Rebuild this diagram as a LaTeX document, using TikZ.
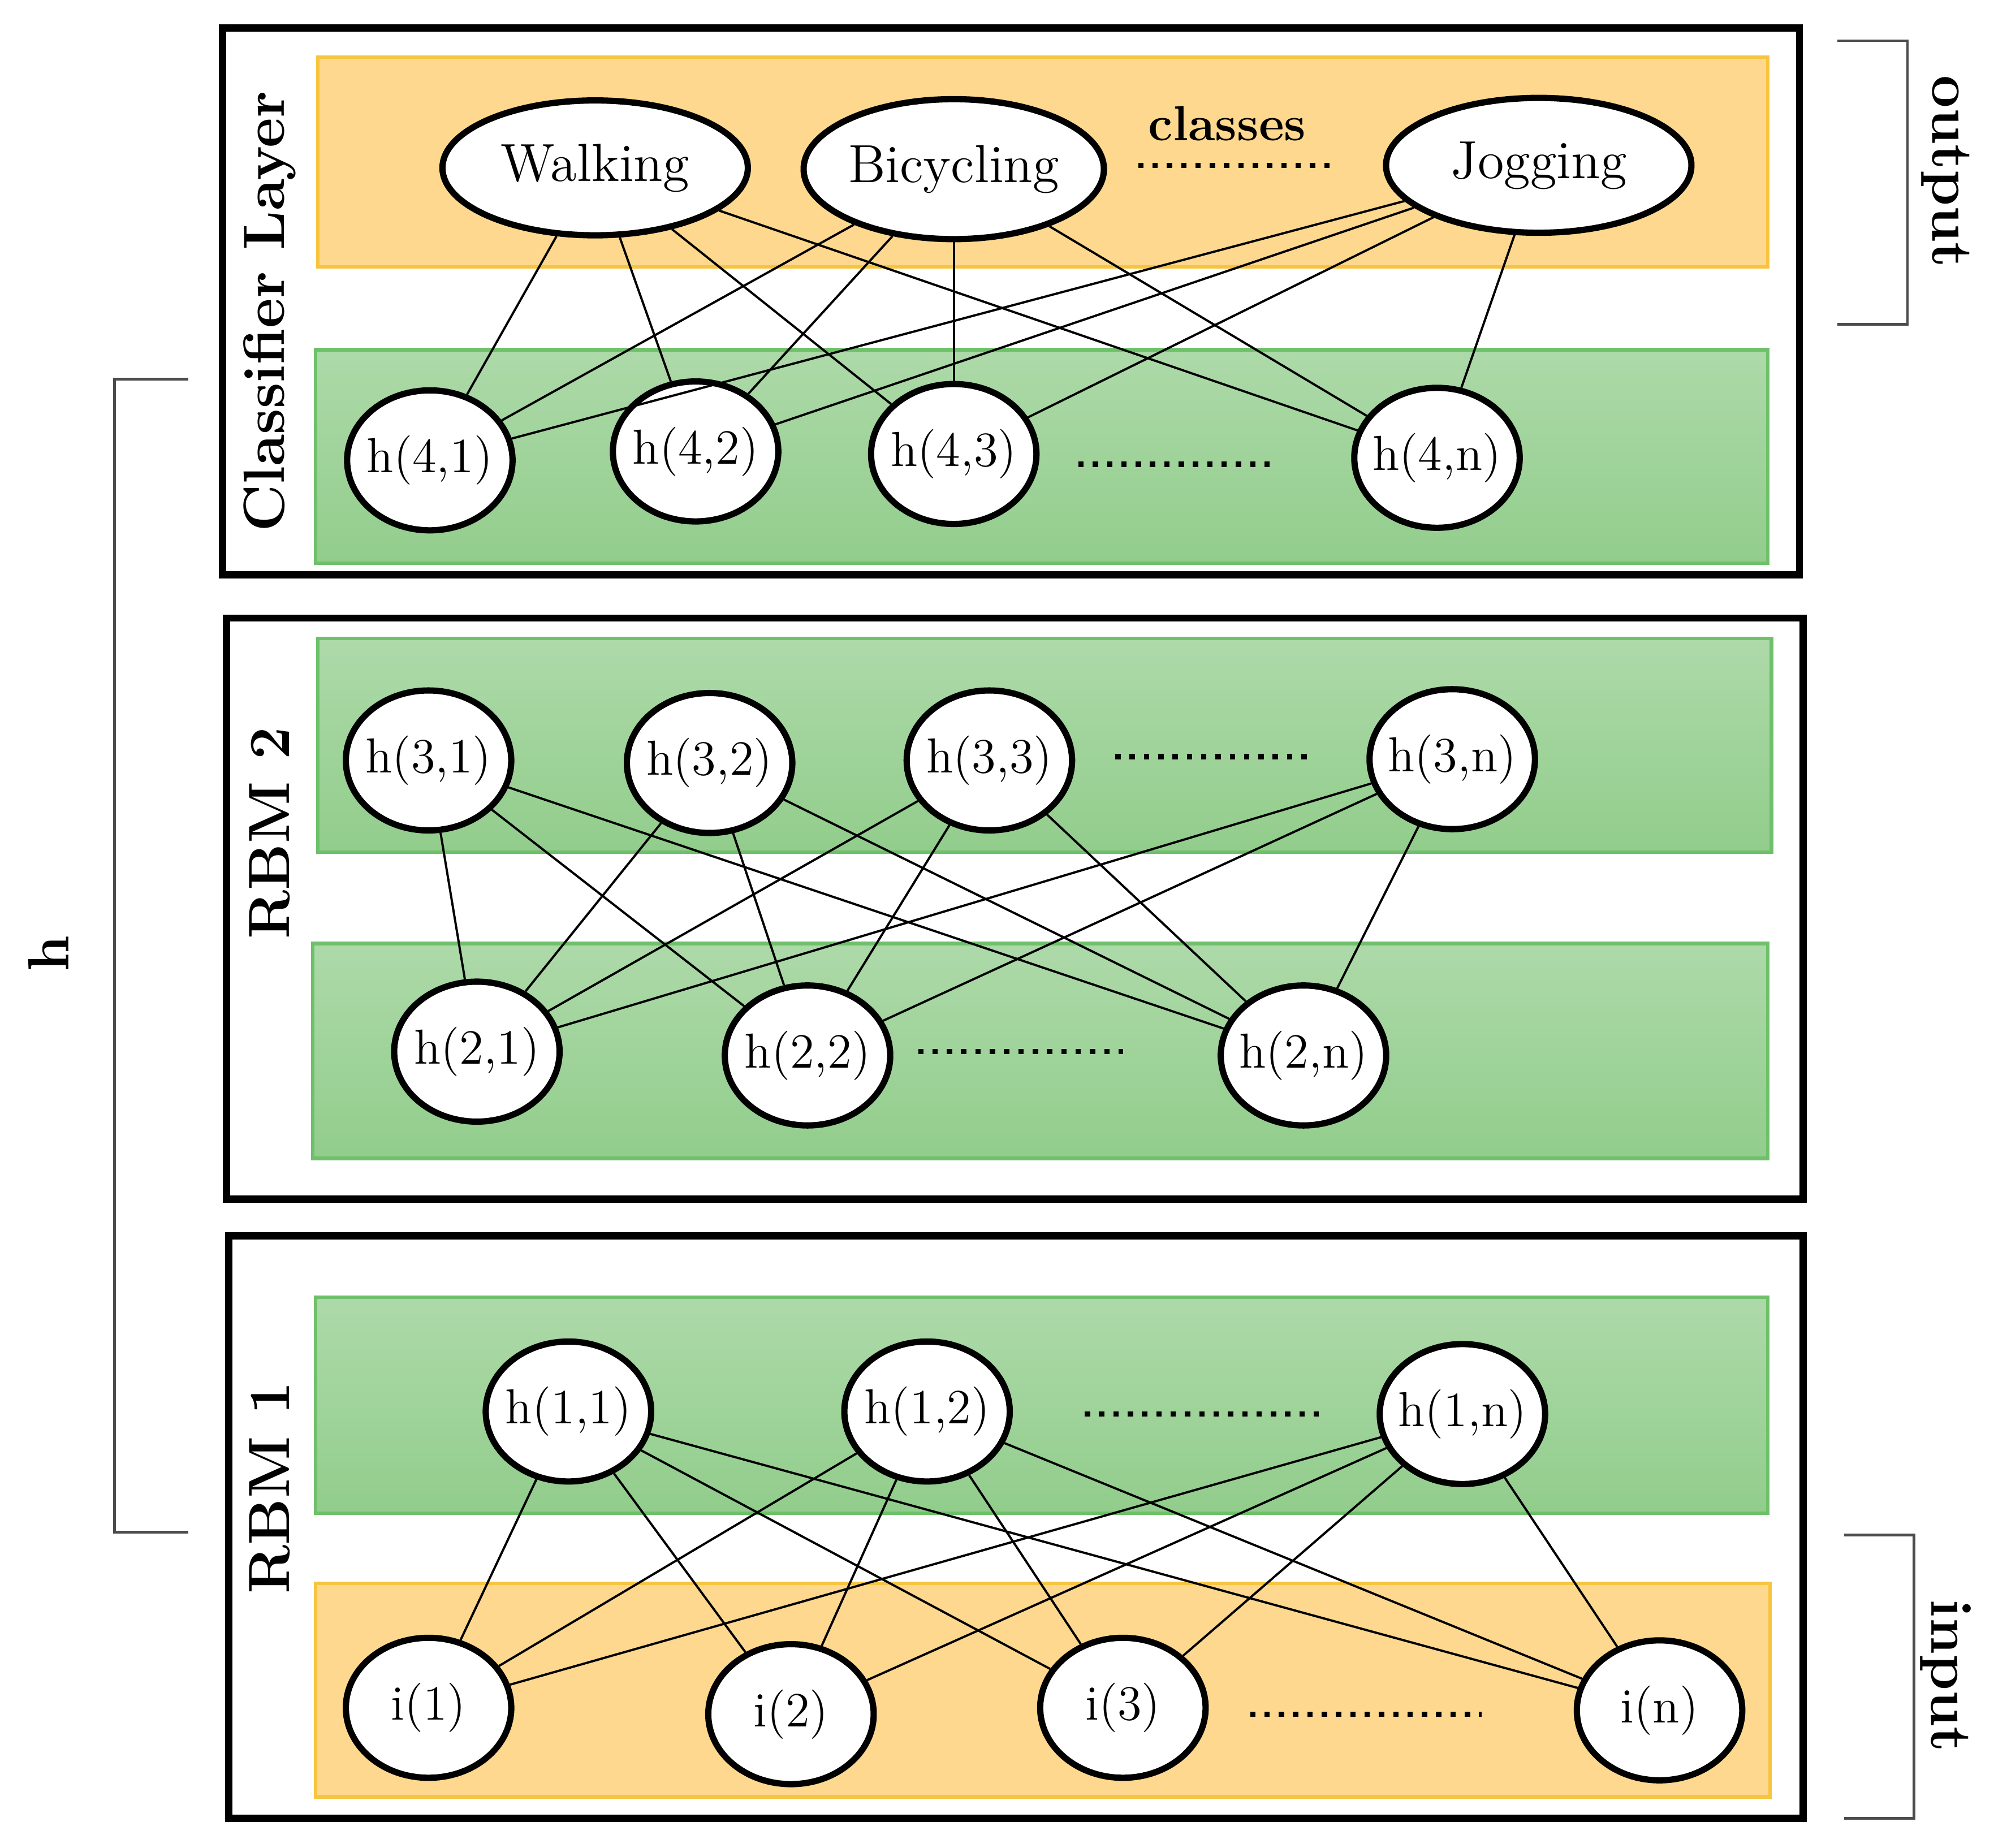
\documentclass[tikz,border=0pt]{standalone}
\usetikzlibrary{shapes.geometric}
\definecolor{orf}{HTML}{FDD88E}\definecolor{ord}{HTML}{F7C440}
\definecolor{grf}{HTML}{92CD8C}\definecolor{grd}{HTML}{6FC06A}
\begin{document}
\begin{tikzpicture}[x=0.01cm,y=-0.01cm,
 nd/.style={ellipse,draw,line width=1.4pt,fill=white,inner sep=0pt,font=\fontsize{11}{13}\selectfont},
 sm/.style={nd,minimum width=1.3cm,minimum height=1.1cm},
 cl/.style={nd,minimum width=2.4cm,minimum height=1.06cm,font=\fontsize{12}{14}\selectfont},
 outer/.style={draw,line width=1.6pt},
 ob/.style={fill=orf,draw=ord,line width=0.8pt},
 gb/.style={top color=grf!75!white,bottom color=grf,draw=grd,line width=0.8pt},
 ed/.style={line width=0.5pt},
 dt/.style={dotted,line width=1.2pt},
 br/.style={line width=0.6pt,gray!60!black},
 lab/.style={font=\fontsize{13}{15}\selectfont\bfseries}]
\useasboundingbox (0,0) rectangle (1568,1453);
% boxes
\draw[outer] (175,22) rectangle (1415,452);
\draw[ob] (250,45) rectangle (1390,210);
\draw[gb] (248,275) rectangle (1390,443);
\draw[outer] (178,486) rectangle (1418,943);
\draw[gb] (250,502) rectangle (1393,670);
\draw[gb] (246,742) rectangle (1390,911);
\draw[outer] (180,972) rectangle (1418,1430);
\draw[gb] (248,1020) rectangle (1390,1190);
\draw[ob] (248,1245) rectangle (1392,1413);
% labels
\node[lab,rotate=90] (lcl) at (212,245) {Classifier Layer};
\node[lab,rotate=90] (lr2) at (212,655) {RBM 2};
\node[lab,rotate=90] (lr1) at (212,1170) {RBM 1};
\node[font=\fontsize{11}{13}\selectfont\bfseries] (lcs) at (965,97) {classes};
% nodes
\node[cl] (w) at (468,132) {Walking};
\node[cl,minimum width=2.36cm,minimum height=1.1cm] (b) at (750,133) {Bicycling};
\node[cl] (j) at (1210,130) {Jogging};
\foreach \n/\x/\y in {h41/338/362,h42/547/355,h43/750/357,h4n/1130/360,
 h31/337/598,h32/558/600,h33/778/598,h3n/1142/597,
 h21/375/827,h22/635/830,h2n/1025/830,
 h11/447/1110,h12/729/1110,h1n/1150/1112,
 i1/337/1343,i2/622/1348,i3/883/1343,in/1305/1345}
 \node[sm] (\n) at (\x,\y) {};
\foreach \n/\t in {h41/{h(4,1)},h42/{h(4,2)},h43/{h(4,3)},h4n/{h(4,n)},h31/{h(3,1)},h32/{h(3,2)},h33/{h(3,3)},h3n/{h(3,n)},h21/{h(2,1)},h22/{h(2,2)},h2n/{h(2,n)},h11/{h(1,1)},h12/{h(1,2)},h1n/{h(1,n)},i1/{i(1)},i2/{i(2)},i3/{i(3)},in/{i(n)}}
 \node[font=\fontsize{11}{13}\selectfont] at (\n) {\t};
% edges
\foreach \a in {w,b,j}\foreach \c in {h41,h42,h43,h4n}\draw[ed] (\a) -- (\c);
\foreach \a in {h31,h32,h33,h3n}\foreach \c in {h21,h22,h2n}\draw[ed] (\a) -- (\c);
\foreach \a in {h11,h12,h1n}\foreach \c in {i1,i2,i3,in}\draw[ed] (\a) -- (\c);
% dots
\coordinate (d1a) at (895,130);\coordinate (d1b) at (1050,130);\draw[dt] (d1a)--(d1b);
\coordinate (d2a) at (848,365);\coordinate (d2b) at (1002,365);\draw[dt] (d2a)--(d2b);
\coordinate (d3a) at (877,595);\coordinate (d3b) at (1030,595);\draw[dt] (d3a)--(d3b);
\coordinate (d4a) at (722,827);\coordinate (d4b) at (883,827);\draw[dt] (d4a)--(d4b);
\coordinate (d5a) at (853,1112);\coordinate (d5b) at (1037,1112);\draw[dt] (d5a)--(d5b);
\coordinate (d6a) at (983,1348);\coordinate (d6b) at (1165,1348);\draw[dt] (d6a)--(d6b);
% brackets
\draw[br] (1445,32) -- (1500,32) -- (1500,255) -- (1445,255);
\node[lab,rotate=-90] (lo) at (1530,135) {output};
\draw[br] (1450,1207) -- (1505,1207) -- (1505,1430) -- (1450,1430);
\node[lab,rotate=-90] (li) at (1530,1318) {input};
\draw[br] (148,298) -- (90,298) -- (90,1205) -- (148,1205);
\node[lab,rotate=90] (lh) at (38,750) {h};
\end{tikzpicture}
\end{document}
